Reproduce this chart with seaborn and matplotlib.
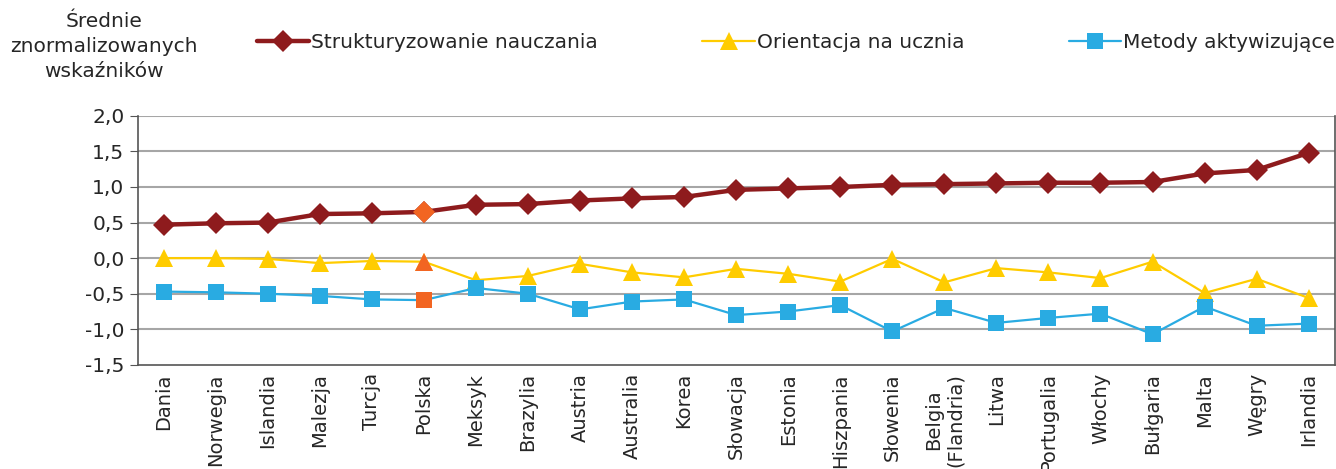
import pandas as pd
import seaborn as sns
import matplotlib.pyplot as plt
from matplotlib.lines import Line2D
from matplotlib.ticker import FuncFormatter, MultipleLocator

countries = ["Dania", "Norwegia", "Islandia", "Malezja", "Turcja", "Polska", "Meksyk",
             "Brazylia", "Austria", "Australia", "Korea", "Słowacja", "Estonia", "Hiszpania",
             "Słowenia", "Belgia\n(Flandria)", "Litwa", "Portugalia", "Włochy", "Bułgaria",
             "Malta", "Węgry", "Irlandia"]

struktura = [0.47, 0.49, 0.50, 0.62, 0.63, 0.65, 0.75, 0.76, 0.81, 0.84, 0.86, 0.96,
             0.98, 1.00, 1.03, 1.04, 1.05, 1.06, 1.06, 1.07, 1.19, 1.24, 1.48]
orientacja = [0.00, 0.00, -0.01, -0.07, -0.04, -0.05, -0.31, -0.25, -0.08, -0.20, -0.27,
              -0.15, -0.22, -0.33, -0.01, -0.34, -0.14, -0.20, -0.28, -0.05, -0.49, -0.29, -0.56]
metody = [-0.47, -0.48, -0.50, -0.53, -0.58, -0.59, -0.42, -0.50, -0.72, -0.61, -0.58,
          -0.80, -0.75, -0.66, -1.03, -0.70, -0.91, -0.84, -0.78, -1.07, -0.68, -0.95, -0.92]

series_names = ["Strukturyzowanie nauczania", "Orientacja na ucznia", "Metody aktywizujące"]
highlight = "Polska"

colors = {"Strukturyzowanie nauczania": "#8e1b1d",
          "Orientacja na ucznia": "#ffcc00",
          "Metody aktywizujące": "#29abe2"}
markers = {"Strukturyzowanie nauczania": "D",
           "Orientacja na ucznia": "^",
           "Metody aktywizujące": "s"}
msizes = {"Strukturyzowanie nauczania": 11.5,
          "Orientacja na ucznia": 13,
          "Metody aktywizujące": 11}
lwidths = {"Strukturyzowanie nauczania": 3.2,
           "Orientacja na ucznia": 1.6,
           "Metody aktywizujące": 1.6}
orange = "#f26522"
fs = 14.5

rows = []
for name, vals in zip(series_names, [struktura, orientacja, metody]):
    for i, (c, v) in enumerate(zip(countries, vals)):
        rows.append({"idx": i, "kraj": c, "seria": name, "wartosc": v})
df = pd.DataFrame(rows)

sns.set_style("white")
plt.rcParams["font.family"] = ["DejaVu Sans"]

fig = plt.figure(figsize=(13.36, 4.69), dpi=100)
ax = fig.add_axes([0.103, 0.222, 0.896, 0.531])

for y in [-1.0, -0.5, 0.0, 0.5, 1.0, 1.5, 2.0]:
    ax.axhline(y, color="#a6a6a6", lw=1.5, zorder=0)

for name in series_names:
    sub = df[df["seria"] == name]
    sns.lineplot(data=sub, x="idx", y="wartosc", ax=ax, color=colors[name],
                 lw=lwidths[name], marker=markers[name], markersize=msizes[name],
                 markeredgewidth=0, legend=False, zorder=3)
    pol = sub[sub["kraj"] == highlight]
    ax.plot(pol["idx"], pol["wartosc"], linestyle="none", marker=markers[name],
            markersize=msizes[name], color=orange, markeredgewidth=0, zorder=4)

ax.set_xlim(-0.5, len(countries) - 0.5)
ax.set_ylim(-1.5, 2.0)
ax.yaxis.set_major_locator(MultipleLocator(0.5))
ax.yaxis.set_major_formatter(FuncFormatter(lambda v, p: f"{v:.1f}".replace(".", ",")))
ax.set_xticks(range(len(countries)))
ax.set_xticklabels(countries, rotation=90, fontsize=14, va="top", ha="center")
ax.set_xticks([i - 0.5 for i in range(len(countries) + 1)], minor=True)
ax.tick_params(axis="x", which="major", length=0, pad=6)
ax.tick_params(axis="x", which="minor", length=6, color="#555555", direction="out")
ax.tick_params(axis="y", labelsize=fs, length=6, color="#555555", direction="out", left=True)
ax.set_xlabel("")
ax.set_ylabel("")

for s in ["left", "bottom", "right"]:
    ax.spines[s].set_color("#555555")
    ax.spines[s].set_linewidth(1.2)
ax.spines["top"].set_visible(False)

fig.text(0.078, 0.975, "Średnie\nznormalizowanych\nwskaźników", ha="center", va="top",
         fontsize=fs, linespacing=1.4)

handles = [Line2D([], [], color=colors[n], lw=lwidths[n], marker=markers[n],
                  markersize=msizes[n], markeredgewidth=0) for n in series_names]
fig.legend(handles, series_names, loc="center left", bbox_to_anchor=(0.186, 0.91),
           ncol=3, frameon=False, fontsize=fs, handlelength=2.6, handletextpad=0.1,
           columnspacing=5.2, borderaxespad=0)

fig.savefig("out.png", dpi=100)
